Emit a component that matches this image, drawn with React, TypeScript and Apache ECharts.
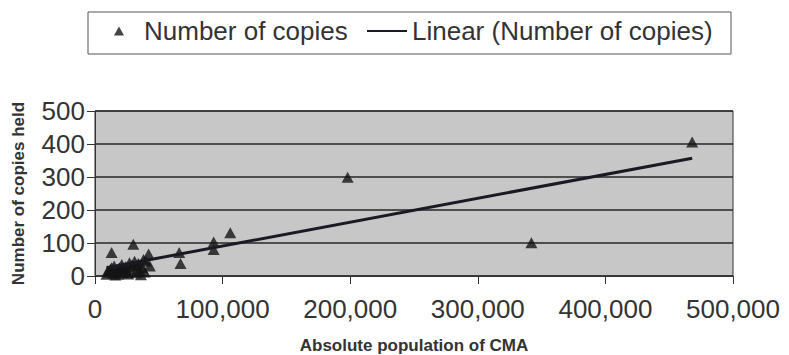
import React, { useEffect, useRef } from "react";
import * as echarts from "echarts";

// Scatter data: [absolute population of CMA, number of copies held]
const copiesPoints: [number, number][] = [
  [468000, 406],
  [342000, 101],
  [198000, 299],
  [106000, 131],
  [93000, 103],
  [93000, 80],
  [66000, 71],
  [67000, 38],
  [42000, 67],
  [30000, 96],
  [13000, 71],
  [9000, 5],
  [10000, 15],
  [11000, 12],
  [12000, 20],
  [13000, 25],
  [14000, 8],
  [15000, 30],
  [16000, 3],
  [17000, 15],
  [18000, 5],
  [19000, 25],
  [20000, 18],
  [21000, 35],
  [22000, 10],
  [23000, 22],
  [24000, 28],
  [25000, 12],
  [26000, 6],
  [27000, 40],
  [28000, 20],
  [29000, 33],
  [31000, 45],
  [32000, 10],
  [33000, 30],
  [34000, 38],
  [35000, 15],
  [36000, 4],
  [37000, 25],
  [38000, 50],
  [39000, 12],
  [40000, 45],
  [43000, 30],
];

// Linear trend line endpoints
const trendPoints: [number, number][] = [
  [9000, 25],
  [468000, 357],
];

const xTickValues = [0, 100000, 200000, 300000, 400000, 500000];
const yTickValues = [0, 100, 200, 300, 400, 500];

const seriesNames = ["Number of copies", "Linear (Number of copies)"];
const xAxisTitle = "Absolute population of CMA";
const yAxisTitle = "Number of copies held";

const FONT = "'Liberation Sans', Arial, sans-serif";
const TEXT = "#333333";

export default function App() {
  const ref = useRef<HTMLDivElement>(null);

  useEffect(() => {
    if (!ref.current) return;
    const chart = echarts.init(ref.current, null, { renderer: "svg" });
    chart.setOption({
      animation: false,
      backgroundColor: "#ffffff",
      textStyle: { fontFamily: FONT },
      graphic: [
        {
          type: "rect",
          shape: { x: 88, y: 12, width: 643, height: 42 },
          style: { fill: "#ffffff", stroke: "#555555", lineWidth: 1 },
          z: 0,
        },
      ],
      legend: [
        {
          data: [{ name: seriesNames[0], icon: "triangle" }],
          left: 114,
          top: 18,
          itemWidth: 10,
          itemHeight: 9,
          padding: 0,
          textStyle: {
            fontFamily: FONT,
            fontSize: 26,
            color: TEXT,
            padding: [0, 0, 0, 15],
          },
          z: 5,
        },
        {
          data: [{ name: seriesNames[1], icon: "rect" }],
          left: 367,
          top: 18,
          itemWidth: 40,
          itemHeight: 2,
          itemGap: 0,
          padding: 0,
          textStyle: { fontFamily: FONT, fontSize: 26, color: TEXT },
          z: 5,
        },
      ],
      grid: {
        left: 95,
        right: 56,
        top: 111,
        bottom: 78,
        show: true,
        backgroundColor: "#c7c7c7",
        borderColor: "#333333",
        borderWidth: 1,
      },
      xAxis: {
        type: "value",
        min: xTickValues[0],
        max: xTickValues[xTickValues.length - 1],
        interval: xTickValues[1] - xTickValues[0],
        name: xAxisTitle,
        nameLocation: "middle",
        nameGap: 61,
        nameTextStyle: {
          fontFamily: FONT,
          fontSize: 17,
          fontWeight: "bold",
          color: TEXT,
        },
        axisLine: { show: true, lineStyle: { color: "#333333", width: 1 } },
        axisTick: { show: true, inside: false, length: 8, lineStyle: { color: "#333333" } },
        splitLine: { show: false },
        axisLabel: {
          margin: 20,
          fontFamily: FONT,
          fontSize: 26,
          color: TEXT,
          formatter: (v: number) => v.toLocaleString("en-US"),
        },
      },
      yAxis: {
        type: "value",
        min: yTickValues[0],
        max: yTickValues[yTickValues.length - 1],
        interval: yTickValues[1] - yTickValues[0],
        name: yAxisTitle,
        nameLocation: "middle",
        nameGap: 68,
        nameRotate: 90,
        nameTextStyle: {
          fontFamily: FONT,
          fontSize: 17,
          fontWeight: "bold",
          color: TEXT,
        },
        axisLine: { show: true, lineStyle: { color: "#333333", width: 1 } },
        axisTick: { show: true, inside: false, length: 8, lineStyle: { color: "#333333" } },
        splitLine: { show: true, lineStyle: { color: "#262626", width: 1.6 } },
        axisLabel: {
          margin: 10,
          fontFamily: FONT,
          fontSize: 26,
          color: TEXT,
        },
      },
      series: [
        {
          name: seriesNames[0],
          type: "scatter",
          symbol: "triangle",
          symbolSize: [12, 11],
          itemStyle: { color: "#141414" },
          data: copiesPoints,
          z: 3,
        },
        {
          name: seriesNames[1],
          type: "line",
          symbol: "none",
          lineStyle: { color: "#1a1a24", width: 3 },
          itemStyle: { color: "#1a1a24" },
          data: trendPoints,
          z: 4,
        },
      ],
    });
    return () => chart.dispose();
  }, []);

  return (
    <div
      ref={ref}
      style={{ position: "fixed", left: 0, top: 0, width: 789, height: 355 }}
    />
  );
}
